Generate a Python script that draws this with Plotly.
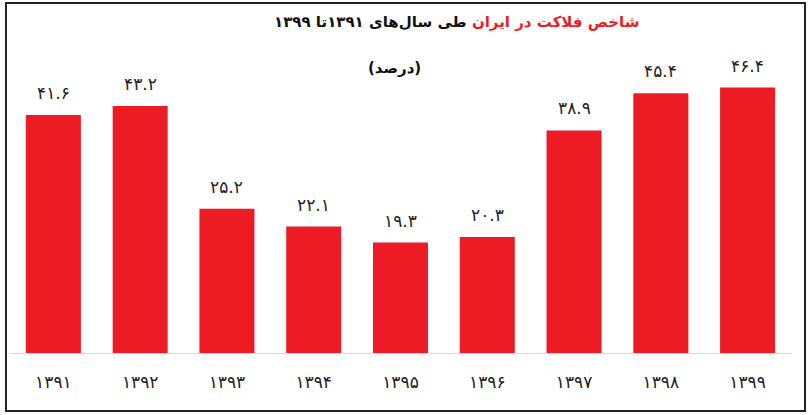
import plotly.graph_objects as go

years = ["۱۳۹۱", "۱۳۹۲", "۱۳۹۳", "۱۳۹۴", "۱۳۹۵", "۱۳۹۶", "۱۳۹۷", "۱۳۹۸", "۱۳۹۹"]
values = [41.6, 43.2, 25.2, 22.1, 19.3, 20.3, 38.9, 45.4, 46.4]
value_labels = ["۴۱.۶", "۴۳.۲", "۲۵.۲", "۲۲.۱", "۱۹.۳", "۲۰.۳", "۳۸.۹", "۴۵.۴", "۴۶.۴"]

title_red = "شاخص فلاکت در ایران"
title_black = "طی سال‌های ۱۳۹۱تا ۱۳۹۹"
subtitle = "(درصد)"

FONT = "DejaVu Sans"
RED = "#ED1C24"

fig = go.Figure()
fig.add_trace(go.Bar(x=years, y=values, marker=dict(color=RED, line=dict(width=0)),
                     hoverinfo="skip"))

for yr, v, lab in zip(years, values, value_labels):
    fig.add_annotation(x=yr, y=v, text=lab, showarrow=False, yshift=22,
                       font=dict(family=FONT, size=17, color="#222222"))

# plot area pixel geometry
L, R, T, B = 10, 791, 67, 353
W, H = R - L, B - T

def px(x):
    return (x - L) / W

def py(y):
    return (B - y) / H

fig.add_annotation(xref="paper", yref="paper", x=px(456), y=py(22),
                   xanchor="center", yanchor="middle",
                   text=f"<b><span style='color:{RED}'>{title_red}</span> {title_black}</b>",
                   showarrow=False, font=dict(family=FONT, size=15, color="#111111"))
fig.add_annotation(xref="paper", yref="paper", x=px(394), y=py(68),
                   xanchor="center", yanchor="middle", text=f"<b>{subtitle}</b>",
                   showarrow=False, font=dict(family=FONT, size=15, color="#111111"))

fig.add_shape(type="rect", xref="paper", yref="paper", x0=px(6), x1=px(805), y0=py(411), y1=py(3),
              line=dict(color="#222222", width=2), fillcolor="rgba(0,0,0,0)", layer="above")

fig.update_layout(
    width=809, height=415,
    margin=dict(l=L, r=809 - R, t=T, b=415 - B),
    paper_bgcolor="white", plot_bgcolor="white",
    bargap=0.366, showlegend=False,
    font=dict(family=FONT),
)
fig.update_xaxes(showline=True, linecolor="#d9d9d9", linewidth=1, showgrid=False,
                 ticks="", ticklabelstandoff=14,
                 tickfont=dict(family=FONT, size=17, color="#222222"))
fig.update_yaxes(range=[0, 50], visible=False, showgrid=False)

fig.write_html("out.html", config={"displayModeBar": False},
               post_script="document.body.style.margin='0';document.body.style.overflow='hidden';")
